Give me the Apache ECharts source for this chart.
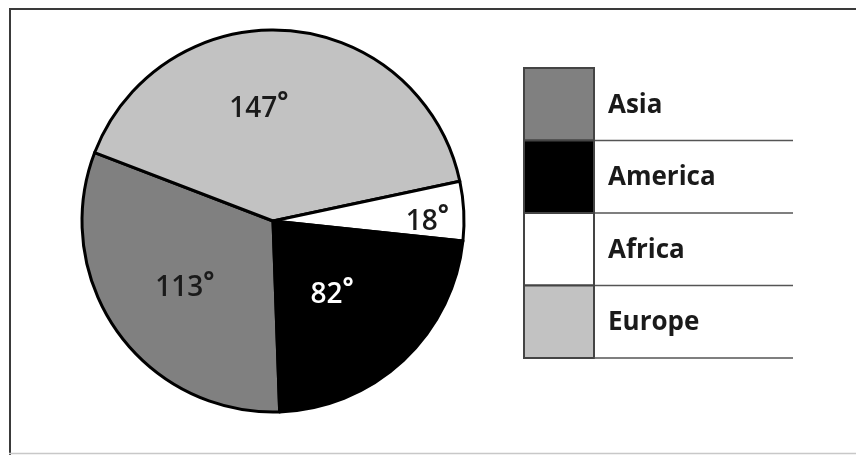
<!DOCTYPE html>
<html>
<head>
<meta charset="utf-8">
<script src="https://cdn.jsdelivr.net/npm/echarts@6/dist/echarts.min.js"></script>
<style>
  html, body { margin: 0; padding: 0; background: #fff; }
  #main { width: 856px; height: 455px; }
</style>
</head>
<body>
<div id="main"></div>
<script>
// degrees of each region, clockwise from the bottom
var regions = ['Asia', 'Europe', 'Africa', 'America'];
var degrees = [113, 147, 18, 82];
var fills = ['#808080', '#c2c2c2', '#ffffff', '#000000'];
var labelColors = ['#1a1a1a', '#1a1a1a', '#1a1a1a', '#ffffff'];
// small hand nudges so the labels sit where the original put them
var labelNudge = { Asia: [-8, 10], Europe: [-22, -14], Africa: [56, 6], America: [-8, 2] };
// legend order as in the picture
var legendOrder = ['Asia', 'America', 'Africa', 'Europe'];

var chart = echarts.init(document.getElementById('main'));

var pieData = [];
for (var i = 0; i < regions.length; i++) {
    pieData.push({
        name: regions[i],
        value: degrees[i],
        itemStyle: { color: fills[i] },
        label: {
            rich: {
                v: { color: labelColors[i], fontSize: 28, fontWeight: 600, fontFamily: 'Open Sans' },
                d: { color: labelColors[i], fontSize: 26, fontWeight: 700, fontFamily: 'Open Sans', verticalAlign: 'top', padding: [0, 0, 12, 0] }
            }
        }
    });
}

// legend boxes and ruled lines, built from the legend order
var boxX = 524, boxW = 70, boxTop = 68, rowH = 72.5, lineEnd = 793;
var graphics = [
    { type: 'line', shape: { x1: 9, y1: 9, x2: 856, y2: 9 }, style: { stroke: '#3a3a3a', lineWidth: 2 } },
    { type: 'line', shape: { x1: 10, y1: 9, x2: 10, y2: 455 }, style: { stroke: '#3a3a3a', lineWidth: 2 } },
    { type: 'line', shape: { x1: 9, y1: 453.5, x2: 856, y2: 453.5 }, style: { stroke: '#c8c8c8', lineWidth: 1.5 } }
];
for (var k = 0; k < legendOrder.length; k++) {
    var idx = regions.indexOf(legendOrder[k]);
    var y0 = boxTop + k * rowH;
    graphics.push({
        type: 'rect',
        shape: { x: boxX, y: y0, width: boxW, height: rowH },
        style: { fill: fills[idx], stroke: '#444', lineWidth: 2 }
    });
    graphics.push({
        type: 'line',
        shape: { x1: boxX + boxW, y1: y0 + rowH, x2: lineEnd, y2: y0 + rowH },
        style: { stroke: '#555', lineWidth: 1.5 }
    });
    graphics.push({
        type: 'text',
        x: 608,
        y: y0 + rowH / 2 + 1,
        style: {
            text: legendOrder[k],
            fill: '#1a1a1a',
            font: '700 26px "Open Sans"',
            verticalAlign: 'middle'
        }
    });
}

var option = {
    backgroundColor: '#ffffff',
    animation: false,
    graphic: graphics,
    series: [
        {
            type: 'pie',
            center: [273, 221],
            radius: 191,
            startAngle: 272,
            clockwise: true,
            data: pieData,
            itemStyle: { borderColor: '#000', borderWidth: 3 },
            label: {
                show: true,
                position: 'inside',
                formatter: function (p) { return '{v|' + p.value + '}{d|°}'; }
            },
            labelLayout: function (p) {
                var n = labelNudge[regions[p.dataIndex]];
                return { dx: n[0], dy: n[1] };
            },
            labelLine: { show: false },
            emphasis: { disabled: true }
        }
    ]
};

chart.setOption(option);
</script>
</body>
</html>
